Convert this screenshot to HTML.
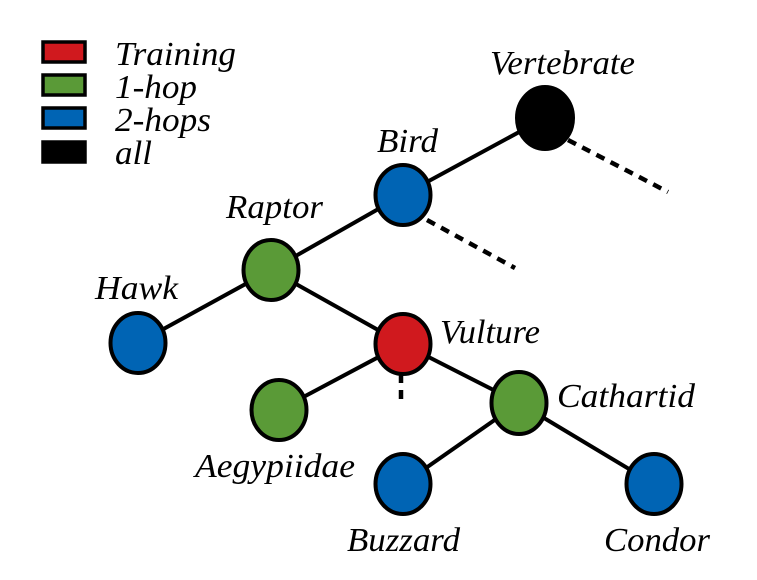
<!DOCTYPE html>
<html><head><meta charset="utf-8"><style>html,body{margin:0;padding:0;background:#fff}svg{display:block}text{font-family:"Liberation Serif",serif;font-style:italic}</style></head>
<body>
<svg width="757" height="580" viewBox="0 0 757 580" xmlns="http://www.w3.org/2000/svg">
<g stroke="#000" stroke-width="4" fill="none">
<line x1="545" y1="118" x2="403" y2="195"/>
<line x1="403" y1="195" x2="271" y2="270"/>
<line x1="271" y1="270" x2="138" y2="343"/>
<line x1="271" y1="270" x2="403" y2="344"/>
<line x1="403" y1="344" x2="279" y2="410"/>
<line x1="403" y1="344" x2="519" y2="403"/>
<line x1="519" y1="403" x2="403" y2="484"/>
<line x1="519" y1="403" x2="654" y2="484"/>
<g stroke-dasharray="9,7" stroke-width="4.5">
<line x1="568" y1="140" x2="668" y2="192"/>
<line x1="427" y1="220" x2="515" y2="268"/>
<line x1="401" y1="374" x2="401" y2="406"/>
</g>
</g>
<g stroke="#000" stroke-width="4">
<ellipse cx="545" cy="118" rx="28" ry="31" fill="#000"/>
<ellipse cx="403" cy="195" rx="27.5" ry="30" fill="#0064b4"/>
<ellipse cx="271" cy="270" rx="27.5" ry="30" fill="#5a9a37"/>
<ellipse cx="138" cy="343" rx="27.5" ry="30" fill="#0064b4"/>
<ellipse cx="403" cy="344" rx="27.5" ry="30" fill="#d0191e"/>
<ellipse cx="279" cy="410" rx="27.5" ry="30" fill="#5a9a37"/>
<ellipse cx="519" cy="403" rx="27.5" ry="31" fill="#5a9a37"/>
<ellipse cx="403" cy="484" rx="27.5" ry="30" fill="#0064b4"/>
<ellipse cx="654" cy="484" rx="27.5" ry="30" fill="#0064b4"/>
</g>
<g stroke="#000" stroke-width="3.5">
<rect x="43" y="42" width="42" height="20" fill="#d0191e"/>
<rect x="43" y="75" width="42" height="20" fill="#5a9a37"/>
<rect x="43" y="108" width="42" height="20" fill="#0064b4"/>
<rect x="43" y="142" width="42" height="20" fill="#000"/>
</g>
<g font-size="34" fill="#000">
<text x="115" y="65" textLength="121" lengthAdjust="spacingAndGlyphs">Training</text>
<text x="115" y="98" textLength="82" lengthAdjust="spacingAndGlyphs">1-hop</text>
<text x="115" y="131" textLength="96" lengthAdjust="spacingAndGlyphs">2-hops</text>
<text x="115" y="164" textLength="37" lengthAdjust="spacingAndGlyphs">all</text>
<text x="490" y="74" textLength="145" lengthAdjust="spacingAndGlyphs">Vertebrate</text>
<text x="377" y="152" textLength="61" lengthAdjust="spacingAndGlyphs">Bird</text>
<text x="226" y="218" textLength="97" lengthAdjust="spacingAndGlyphs">Raptor</text>
<text x="95" y="299" textLength="83" lengthAdjust="spacingAndGlyphs">Hawk</text>
<text x="440" y="343" textLength="100" lengthAdjust="spacingAndGlyphs">Vulture</text>
<text x="557" y="407" textLength="138" lengthAdjust="spacingAndGlyphs">Cathartid</text>
<text x="195" y="477" textLength="160" lengthAdjust="spacingAndGlyphs">Aegypiidae</text>
<text x="347" y="551" textLength="113" lengthAdjust="spacingAndGlyphs">Buzzard</text>
<text x="604" y="551" textLength="106" lengthAdjust="spacingAndGlyphs">Condor</text>
</g>
</svg>
</body></html>
